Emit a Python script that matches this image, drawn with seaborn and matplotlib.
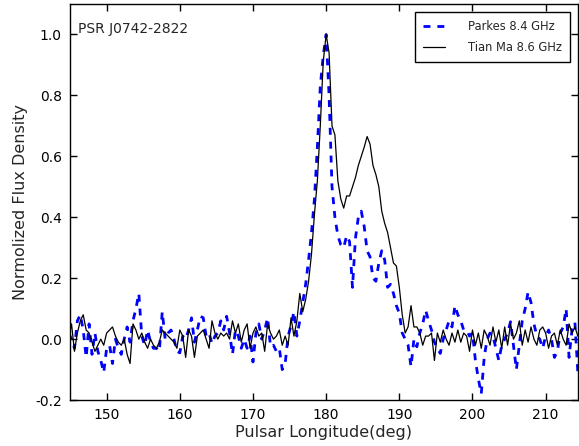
import numpy as np
import pandas as pd
import matplotlib
matplotlib.use("Agg")
import matplotlib.pyplot as plt
import seaborn as sns

# Pulsar longitude grid (deg)
lon_start = 144.8
lon_step = 0.4

# Tian Ma 8.6 GHz normalized profile
tianma = [
    0.00, 0.05, -0.04, 0.02, 0.06, 0.08, 0.03, 0.02, -0.01, -0.04,
    -0.02, 0.00, -0.02, 0.02, 0.03, 0.04, 0.01, -0.01, -0.02, 0.00,
    -0.05, -0.08, 0.05, 0.03, 0.00, 0.02, -0.01, -0.03, 0.00, -0.02,
    -0.03, -0.01, 0.03, 0.02, 0.01, 0.00, -0.01, -0.03, 0.03, 0.01,
    -0.06, 0.03, 0.01, -0.06, 0.01, 0.02, 0.03, 0.00, -0.03, 0.06,
    0.02, 0.00, 0.02, 0.01, 0.02, 0.00, 0.06, 0.02, 0.05, -0.01,
    0.03, 0.05, -0.03, 0.02, 0.04, 0.01, 0.02, -0.04, 0.05, 0.02,
    0.00, 0.01, 0.03, -0.02, 0.01, -0.02, 0.07, 0.01, 0.06, 0.15,
    0.09, 0.13, 0.19, 0.28, 0.41, 0.52, 0.70, 0.91, 1.00, 0.94,
    0.70, 0.67, 0.52, 0.46, 0.43, 0.47, 0.47, 0.50, 0.53, 0.57,
    0.60, 0.63, 0.665, 0.64, 0.57, 0.54, 0.50, 0.42, 0.38, 0.35,
    0.30, 0.25, 0.24, 0.17, 0.08, 0.02, 0.04, 0.11, 0.04, 0.04,
    0.02, -0.02, 0.01, 0.01, 0.02, -0.07, 0.02, -0.01, 0.03, 0.00,
    -0.02, 0.02, -0.01, 0.03, -0.01, 0.02, 0.01, -0.04, 0.03, -0.02,
    0.02, -0.03, 0.03, 0.01, -0.02, 0.04, -0.01, 0.03, -0.03, 0.04,
    -0.02, 0.05, 0.00, 0.02, 0.06, -0.02, 0.03, -0.01, 0.04, 0.00,
    -0.02, 0.03, 0.04, 0.02, -0.03, 0.01, 0.02, -0.02, 0.03, 0.00,
    -0.02, 0.05, 0.02, 0.04, 0.01, 0.02,
]

# Parkes 8.4 GHz normalized profile
parkes = [
    0.02, 0.00, -0.03, 0.06, 0.08, 0.03, -0.06, 0.05, -0.05, 0.02,
    -0.04, -0.07, -0.11, -0.03, -0.02, -0.08, 0.00, -0.03, -0.05, 0.00,
    0.04, -0.01, 0.06, 0.10, 0.15, 0.01, -0.02, 0.03, -0.01, -0.03,
    -0.03, -0.04, 0.09, 0.00, 0.02, 0.03, 0.00, -0.04, -0.045, 0.01,
    0.00, 0.03, 0.07, -0.01, 0.03, 0.075, 0.07, 0.01, 0.02, -0.015,
    0.01, 0.02, 0.06, 0.03, 0.075, 0.02, -0.05, 0.03, 0.01, -0.03,
    0.00, -0.03, 0.01, -0.075, 0.02, 0.05, 0.00, 0.03, 0.07, -0.025,
    -0.02, -0.04, -0.03, -0.10, -0.08, 0.01, 0.045, 0.09, 0.01, 0.06,
    0.12, 0.18, 0.26, 0.35, 0.46, 0.63, 0.83, 0.93, 1.00, 0.80,
    0.50, 0.40, 0.34, 0.31, 0.30, 0.34, 0.32, 0.17, 0.33, 0.40,
    0.42, 0.37, 0.29, 0.27, 0.20, 0.19, 0.25, 0.29, 0.26, 0.17,
    0.18, 0.15, 0.11, 0.085, 0.02, 0.00, -0.02, -0.09, 0.00, -0.025,
    0.02, 0.05, 0.095, 0.06, 0.03, -0.01, -0.03, -0.047, 0.00, 0.03,
    0.06, 0.04, 0.11, 0.08, 0.06, 0.03, 0.03, 0.01, 0.02, -0.07,
    -0.13, -0.18, -0.06, 0.00, 0.02, 0.01, -0.03, -0.07, -0.02, 0.00,
    0.02, 0.057, -0.02, -0.10, -0.02, 0.06, 0.10, 0.155, 0.12, 0.05,
    0.01, 0.00, -0.03, 0.01, 0.03, 0.00, -0.06, -0.04, 0.02, 0.04,
    0.10, -0.06, 0.03, 0.055, -0.11, -0.05,
]

labels = ["Parkes 8.4 GHz", "Tian Ma 8.6 GHz"]
xticks = [150, 160, 170, 180, 190, 200, 210]
yticks = [-0.2, 0.0, 0.2, 0.4, 0.6, 0.8, 1.0]

lon = lon_start + lon_step * np.arange(len(tianma))
df_p = pd.DataFrame({"lon": lon[:len(parkes)], "flux": parkes})
df_t = pd.DataFrame({"lon": lon, "flux": tianma})

sns.set_style("ticks")
plt.rcParams["font.family"] = ["DejaVu Sans"]
plt.rcParams["xtick.direction"] = "in"
plt.rcParams["ytick.direction"] = "in"

fig = plt.figure(figsize=(5.79, 4.46), dpi=100)
ax = fig.add_axes([0.121, 0.103, 0.877, 0.888])

sns.lineplot(data=df_p, x="lon", y="flux", ax=ax, color="blue",
             linewidth=2.0, linestyle=(0, (2.5, 2.5)), label=labels[0])
sns.lineplot(data=df_t, x="lon", y="flux", ax=ax, color="black",
             linewidth=0.9, label=labels[1])

ax.set_xlim(145, 214.4)
ax.set_ylim(-0.2, 1.1)
ax.set_xticks(xticks)
ax.set_yticks(yticks)
ax.set_yticklabels([f"{v:.1f}" for v in yticks])
ax.tick_params(axis="both", which="major", direction="in", length=5,
               width=1, labelsize=10, top=True, right=True, pad=6,
               color="black", labelcolor="black")
for s in ax.spines.values():
    s.set_color("black")
    s.set_linewidth(1.0)
    s.set_visible(True)

ax.set_xlabel("Pulsar Longitude(deg)", fontsize=11.5, labelpad=2)
ax.set_ylabel("Normolized Flux Density", fontsize=11.5, labelpad=5)
ax.text(0.015, 0.955, "PSR J0742-2822", transform=ax.transAxes,
        fontsize=10, va="top", ha="left")

leg = ax.legend(loc="upper right", fontsize=8.3, frameon=True, fancybox=False,
                handlelength=1.9, borderaxespad=0.7, borderpad=0.7,
                labelspacing=0.65, handletextpad=2.0)
leg.get_frame().set_edgecolor("black")
leg.get_frame().set_linewidth(1.0)
leg.get_frame().set_alpha(1.0)

fig.savefig("out.png", dpi=100)
